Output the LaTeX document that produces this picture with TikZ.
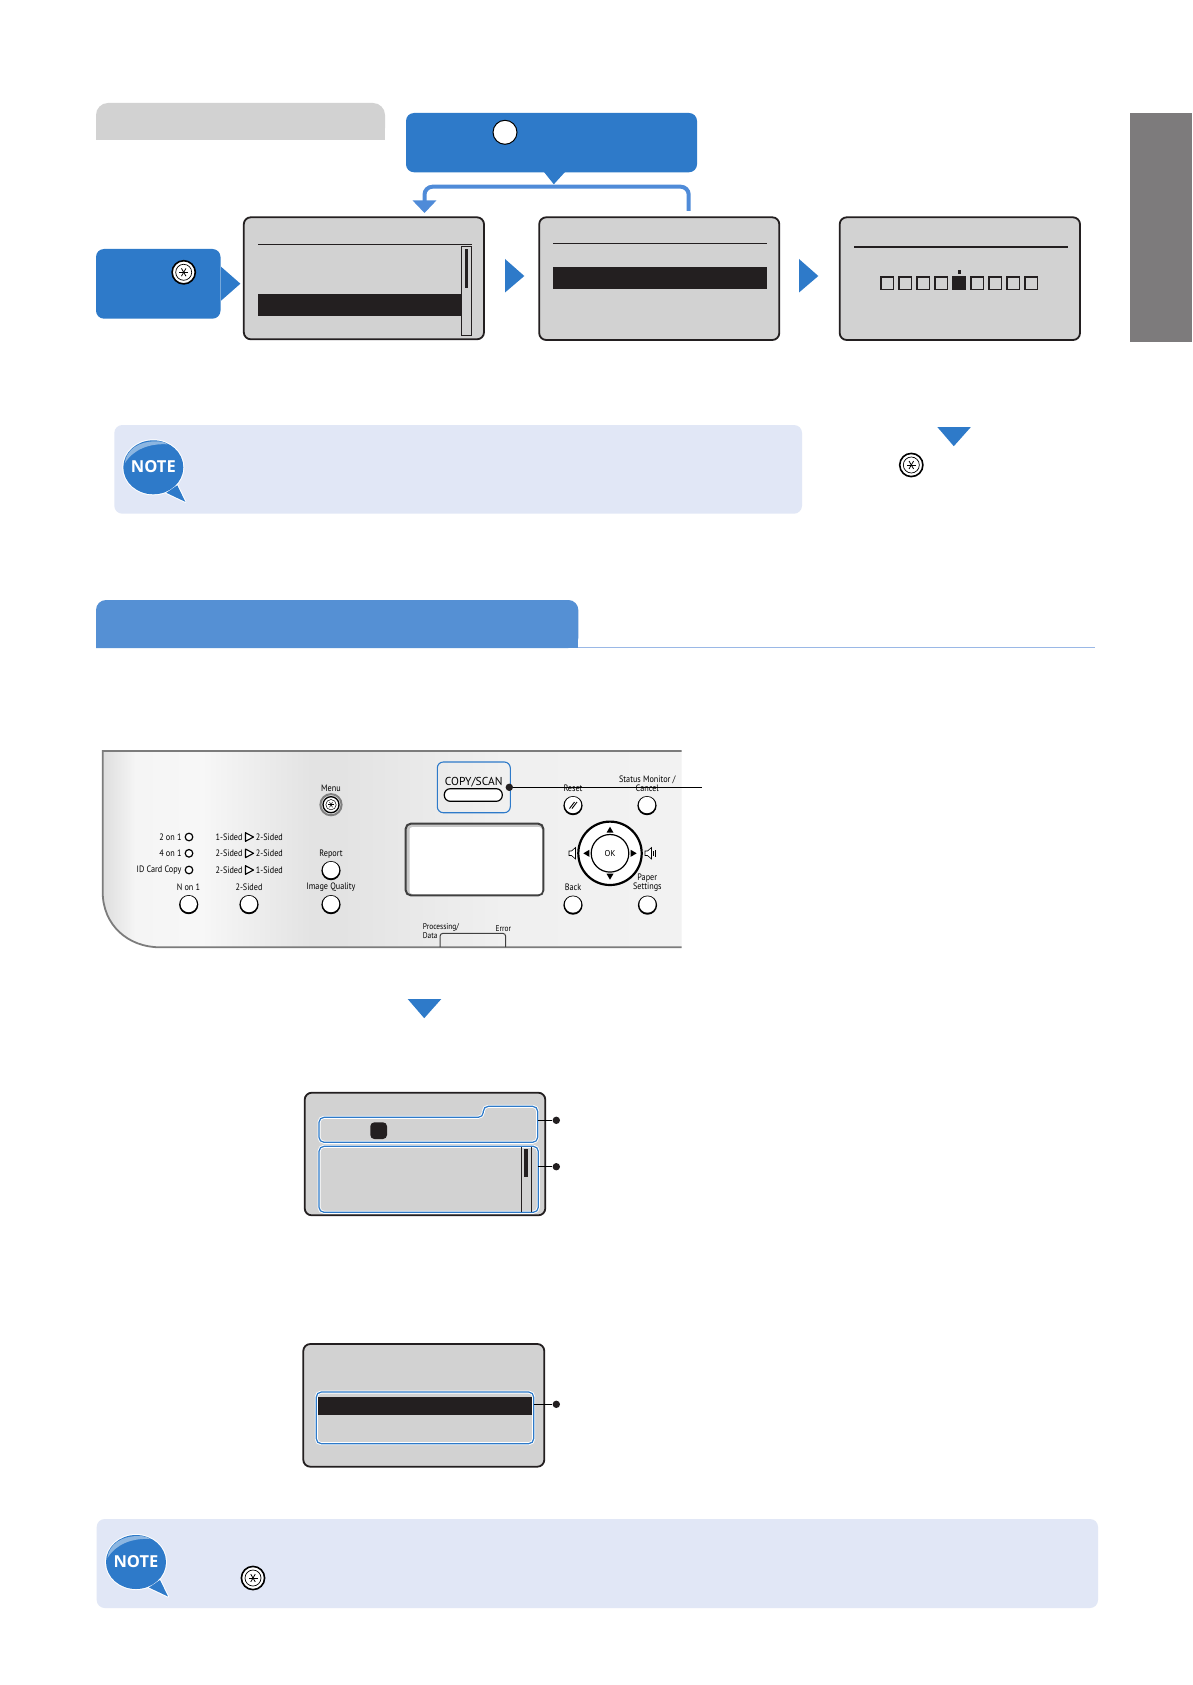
\documentclass[tikz,border=0pt]{standalone}
\usepackage{fontspec}
\setmainfont{PT Sans}
\newfontfamily\notefont{Open Sans}
\newfontfamily\panelfont[FakeStretch=0.88]{PT Sans}
\usetikzlibrary{arrows.meta}

\definecolor{stepblue}{HTML}{2E7AC9}
\definecolor{linkblue}{HTML}{4F8BD8}
\definecolor{tabblue}{HTML}{5590D4}
\definecolor{ruleblue}{HTML}{9AB8E6}
\definecolor{lcdgray}{HTML}{D2D2D2}
\definecolor{lcdink}{HTML}{231F20}
\definecolor{notebg}{HTML}{E1E7F6}
\definecolor{sidegray}{HTML}{7D7B7C}
\definecolor{panelline}{HTML}{7C7C7C}

\pgfdeclarehorizontalshading{panelface}{100bp}{color(0bp)=(black!13); color(25bp)=(black!13); color(27.8bp)=(black!4); color(33.4bp)=(black!3); color(43bp)=(black!11); color(45.5bp)=(black!11); color(59.3bp)=(black!6); color(75bp)=(black!5); color(100bp)=(black!5)}

\tikzset{
    lcdbox/.style={draw=lcdink, fill=lcdgray, line width=1.8pt, rounded corners=7pt},
    stepbox/.style={fill=stepblue, rounded corners=8pt},
    notebox/.style={fill=notebg, rounded corners=8pt},
    hilite/.style={draw=stepblue, line width=1.2pt, rounded corners=5pt, preaction={draw=white, line width=3pt}},
    ptext/.style={font=\panelfont\fontsize{9.3}{10}\selectfont, inner sep=0pt, text=black},
    dotmark/.style={circle, fill=lcdink, inner sep=0pt, minimum size=7.4pt},
}

\newcommand{\menukey}[1]{%
    \draw[line width=1.6pt, fill=white] #1 circle [radius=11.6];
    \draw[line width=.7pt] #1 circle [radius=8];
    \foreach \a in {0,60,120} {%
        \draw[line width=.8pt] #1 ++(\a:4.5) -- ++(\a+180:9);
    }
}
\newcommand{\panelkey}[1]{%
    \fill[black] #1 ++(0,.6) circle [radius=9.6];
    \fill[white] #1 circle [radius=8.2];
}
\newcommand{\notemark}[2]{%
    \begin{scope}[shift={(#1,#2)}]
        \draw[white, line width=2pt, line join=round] (24,18) -- (32,34.5) -- (13,25.5) -- cycle;
        \draw[white, line width=2pt] (0,0) ellipse [x radius=30, y radius=27];
        \fill[stepblue] (24,18) -- (32,34.5) -- (13,25.5) -- cycle;
        \fill[stepblue] (0,0) ellipse [x radius=30, y radius=27];
        \fill[stepblue!55!white] (-28.5,-4) .. controls (-27,-18) and (-14,-26) .. (2,-26) .. controls (8,-26) and (12,-25) .. (14,-23) .. controls (-4,-24) and (-20,-18) .. (-28.5,-4) -- cycle;
        \node[text=white, inner sep=0pt, font=\notefont\bfseries\fontsize{16.5}{18}\selectfont] at (0,-.5) {NOTE};
    \end{scope}
}

\begin{document}
\begin{tikzpicture}[x=1pt, y=-1pt, >={Triangle[width=23pt, length=12.5pt]}]
    \useasboundingbox (0,0) rectangle (1192,1685);
    \fill[white] (0,0) rectangle (1192,1685);

    \fill[sidegray] (1130,112.7) rectangle (1192,342);
    \fill[lcdgray, rounded corners=12pt] (96,140) -- (96,103) -- (385,103) -- (385,140) [sharp corners] -- cycle;
    \fill[lcdgray] (96,128) rectangle (385,140);

    \fill[stepbox] (406,113) rectangle (697,172.3);
    \fill[stepblue] (544,172) -- (553.8,184.3) -- (565,172) -- cycle;
    \draw[line width=1pt, fill=white] (505,132.3) circle [radius=12];

    \coordinate (linkstart) at (688.7,211);
    \coordinate (linkend) at (424.5,213);
    \draw[->, linkblue, line width=4pt, rounded corners=8pt] (linkstart) -- (688.7,186.7) -- (424.5,186.7) -- (linkend);

    \fill[stepbox] (96,249) rectangle (220.5,318.7);
    \fill[stepblue] (221,266.7) -- (240.4,283.7) -- (221,300.7) -- cycle;
    \menukey{(183.7,272.3)}

    \draw[lcdbox] (243.8,217.3) rectangle (484,339.3);
    \draw[lcdink, line width=1pt] (258,244.3) -- (472,244.3);
    \fill[lcdink] (258,294) rectangle (461.6,316);
    \draw[lcdink, line width=.7pt] (461.6,246) rectangle (471.5,335.7);
    \fill[lcdink] (465,249) rectangle (468,288);

    \draw[lcdbox] (539.2,217.3) rectangle (779.3,340);
    \draw[lcdink, line width=1pt] (553,243.3) -- (767,243.3);
    \fill[lcdink] (553,267) rectangle (767,289);

    \draw[lcdbox] (839.7,217.3) rectangle (1080,340);
    \draw[lcdink, line width=2pt] (854,246.7) -- (1068,246.7);
    \foreach \x in {880,898,916,934,970,988,1006,1024} {%
        \draw[lcdink, line width=1.7pt] (\x+.8,276.8) rectangle (\x+13.6,289.6);
    }
    \fill[lcdink] (952,276) rectangle (966,290.4);
    \fill[lcdink] (958,270.3) rectangle (961,274);

    \foreach \x/\y in {505/259, 799/259} {%
        \fill[stepblue] (\x,\y) -- (\x+19.3,\y+17) -- (\x,\y+33.5) -- cycle;
    }
    \foreach \x/\y in {937.3/427, 407.7/999} {%
        \fill[stepblue] (\x,\y) -- (\x+33.6,\y) -- (\x+16.5,\y+19.2) -- cycle;
    }

    \fill[notebox] (114.3,425) rectangle (802,513.7);
    \notemark{153.3}{467.3}
    \menukey{(911.3,465)}

    \fill[tabblue, rounded corners=10pt] (96,648) -- (96,600) -- (578.3,600) -- (578.3,648) [sharp corners] -- cycle;
    \fill[tabblue] (96,630) rectangle (578.3,648);
    \draw[ruleblue, line width=1.6pt] (578.3,647.6) -- (1095,647.6);

    \shade[shading=panelface] (102.7,751) -- (102.7,892) .. controls (102.7,925) and (128,947.3) .. (160,947.3) -- (681.7,947.3) -- (681.7,751) -- cycle;
    \draw[panelline, line width=1.8pt] (681.7,751) -- (102.7,751) -- (102.7,892) .. controls (102.7,925) and (128,947.3) .. (160,947.3) -- (681.7,947.3);

    \node[ptext, anchor=east] (twoone) at (181.7,837) {2 on 1};
    \node[ptext, anchor=east] (fourone) at (181.7,853.3) {4 on 1};
    \node[ptext, anchor=east] (idcard) at (181.7,870) {ID Card Copy};
    \foreach \y in {837,853.3,870} {%
        \draw[line width=1.2pt, fill=white] (189,\y) circle [radius=3.8];
    }
    \foreach \y/\l/\r [count=\i] in {837/1/2, 853.3/2/2, 870/2/1} {%
        \node[ptext, anchor=east] (sidea\i) at (242.7,\y) {\l-Sided};
        \draw[line width=1.1pt, line join=round, fill=white] (245.5,\y-4.3) -- (253.5,\y) -- (245.5,\y+4.3) -- cycle;
        \node[ptext, anchor=west] (sideb\i) at (255.7,\y) {\r-Sided};
    }

    \node[ptext] (menutxt) at (331,788) {Menu};
    \draw[black!50, line width=2pt] (331,804.7) circle [radius=10.6];
    \draw[line width=1.3pt, fill=white] (331,804.7) circle [radius=8];
    \draw[line width=.5pt] (331,804.7) circle [radius=5.2];
    \foreach \a in {0,60,120} {%
        \draw[line width=.5pt] (331,804.7) ++(\a:3) -- ++(\a+180:6);
    }
    \node[ptext] (reporttxt) at (331,853.7) {Report};
    \node[ptext] (nup) at (188.5,887) {N on 1};
    \node[ptext] (duplex) at (249,887) {2-Sided};
    \node[ptext] (quality) at (331,887) {Image Quality};
    \foreach \p in {(331,870), (188.7,904), (249,904), (331,904), (573,805), (647,805), (573,904.5), (647.5,904.5)} {%
        \panelkey{\p}
    }
    \draw[line width=.9pt] (569.5,808.5) -- (574.5,802);
    \draw[line width=.9pt] (572,808.5) -- (577,802);

    \draw[stepblue, line width=1.1pt, rounded corners=6pt] (437.3,762) rectangle (510.3,812.7);
    \node[ptext, font=\fontsize{11.5}{12}\selectfont, text=black] (copytxt) at (473.7,782.3) {COPY/SCAN};
    \draw[line width=1.2pt, fill=white, rounded corners=6pt] (444.3,788.7) rectangle (502.3,801.3);

    \node[ptext] (resettxt) at (573,788.3) {Reset};
    \node[ptext] (statustxt) at (647.3,779.7) {Status Monitor /};
    \node[ptext] (canceltxt) at (647.3,788.3) {Cancel};
    \node[dotmark] (copydot) at (509.3,787.3) {};
    \coordinate (copyend) at (702,787.3);
    \draw[line width=.8pt] (copydot) -- (copyend);

    \draw[black!75, fill=black!22, line width=2pt, rounded corners=5pt] (405.7,823.7) rectangle (543.3,895.3);
    \fill[white, rounded corners=3pt] (409.5,827) rectangle (542,894);

    \draw[line width=2.2pt, fill=white] (610,853.3) circle [radius=31.7];
    \draw[line width=1.2pt] (610,853.3) circle [radius=18.8];
    \node[ptext, font=\fontsize{8.5}{10}\selectfont] (oktxt) at (610,853.3) {OK};
    \fill[black] (610,826.7) -- (613.5,832.7) -- (606.5,832.7) -- cycle;
    \fill[black] (610,879.7) -- (613.5,873.7) -- (606.5,873.7) -- cycle;
    \fill[black] (583.3,853.3) -- (589.3,849.8) -- (589.3,856.8) -- cycle;
    \fill[black] (636.7,853.3) -- (630.7,849.8) -- (630.7,856.8) -- cycle;
    \draw[line width=.6pt, fill=white] (569,851) -- (571.5,851) -- (575.5,847.5) -- (575.5,859) -- (571.5,855.5) -- (569,855.5) -- cycle;
    \draw[line width=.6pt, fill=white] (645,851) -- (647.5,851) -- (651.5,847.5) -- (651.5,859) -- (647.5,855.5) -- (645,855.5) -- cycle;
    \draw[line width=.5pt] (653.5,851) -- (653.5,855.5);
    \draw[line width=.5pt] (655,850) -- (655,856.5);

    \node[ptext] (backtxt) at (573,887) {Back};
    \node[ptext] (papertxt) at (647.3,878.3) {Paper};
    \node[ptext] (settingstxt) at (647.3,887) {Settings};

    \node[ptext, font=\panelfont\fontsize{8.4}{9}\selectfont, anchor=west] (proctxt) at (422.7,927.7) {Processing/};
    \node[ptext, font=\panelfont\fontsize{8.4}{9}\selectfont, anchor=west] (datatxt) at (422.7,936) {Data};
    \node[ptext, font=\panelfont\fontsize{8.4}{9}\selectfont] (errortxt) at (503.3,929) {Error};
    \draw[black!75, line width=1pt, rounded corners=3pt] (440,947) -- (440,933.3) -- (505.7,933.3) -- (505.7,947);

    \draw[lcdbox] (304.7,1092.7) rectangle (545.3,1215.3);
    \draw[hilite] (319,1117.3) -- (483.3,1117.3) -- (483.3,1106.3) -- (537.7,1106.3) -- (537.7,1142.3) -- (319,1142.3) -- cycle;
    \fill[lcdink, rounded corners=4pt] (370.3,1122.3) rectangle (387,1139);
    \draw[hilite] (319,1146.3) rectangle (538.3,1212.3);
    \draw[lcdink, line width=.7pt] (521.3,1147) -- (521.3,1211.5);
    \draw[lcdink, line width=.7pt] (531.7,1147) -- (531.7,1211.5);
    \fill[lcdink] (524,1149) rectangle (528,1177);
    \coordinate (headedge) at (537.7,1120.3);
    \coordinate (listedge) at (538.3,1166.7);
    \node[dotmark] (headdot) at (556.3,1120.3) {};
    \node[dotmark] (listdot) at (556.3,1166.7) {};
    \draw[line width=.8pt] (headedge) -- (headdot);
    \draw[line width=.8pt] (listedge) -- (listdot);

    \draw[lcdbox] (303.3,1344) rectangle (544.3,1466.7);
    \draw[hilite] (316.3,1392) rectangle (533.7,1443.7);
    \fill[lcdink] (318,1397) rectangle (531.7,1415);
    \coordinate (selectedge) at (533.7,1404.3);
    \node[dotmark] (selectdot) at (556.3,1404.3) {};
    \draw[line width=.8pt] (selectedge) -- (selectdot);

    \fill[notebox] (96.7,1519) rectangle (1098,1608);
    \notemark{136}{1562}
    \menukey{(253,1578)}
\end{tikzpicture}
\end{document}
